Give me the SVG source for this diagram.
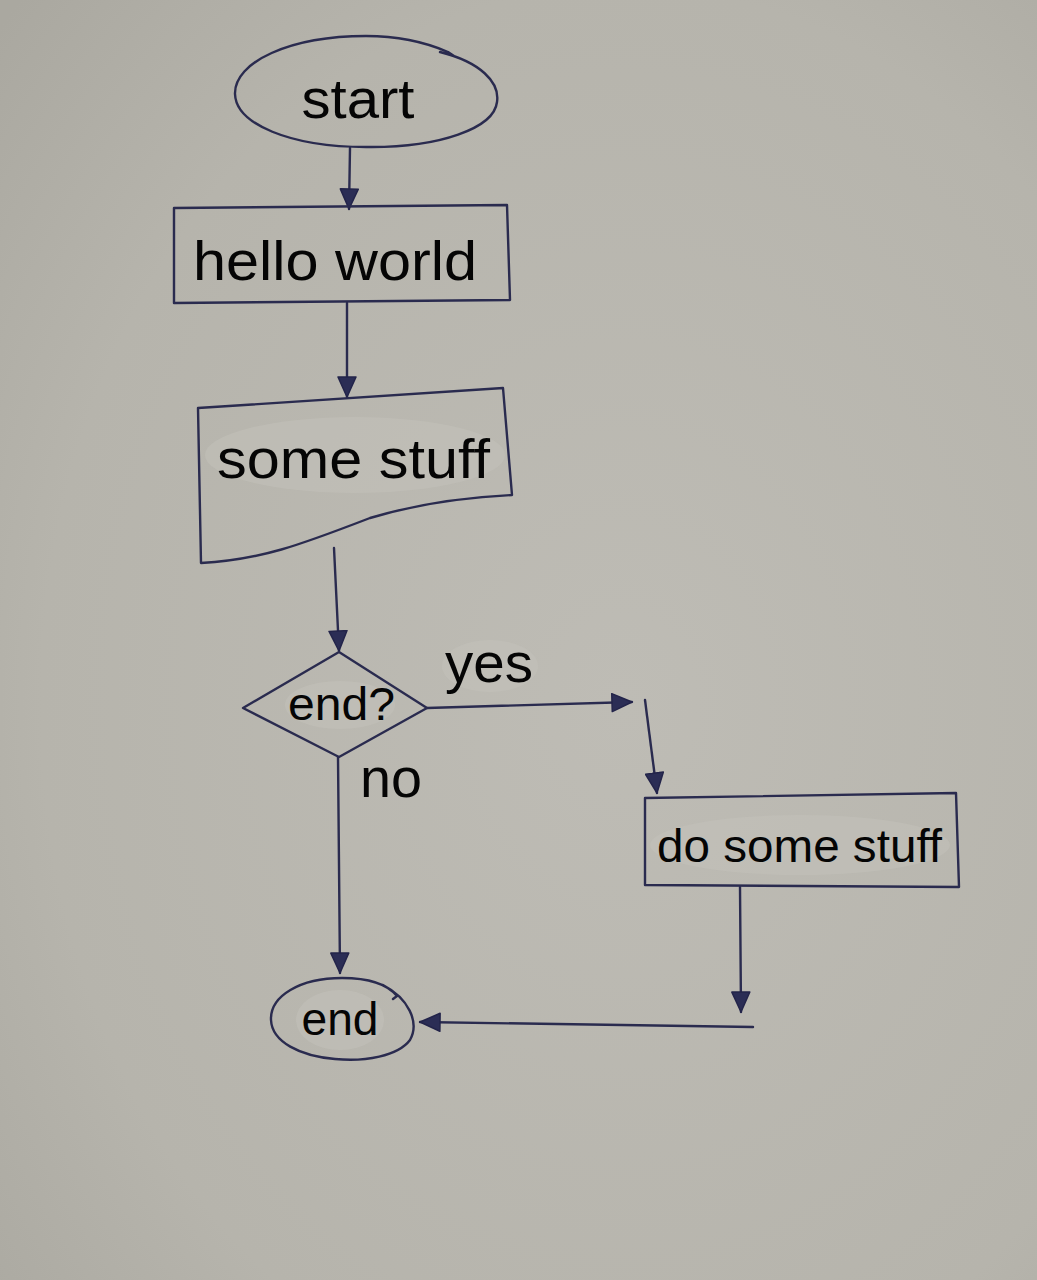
<svg xmlns="http://www.w3.org/2000/svg" width="1037" height="1280" viewBox="0 0 1037 1280">
<defs>
<radialGradient id="paper" cx="0.6" cy="0.55" r="0.8">
<stop offset="0" stop-color="#bebcb5"/>
<stop offset="0.7" stop-color="#b6b4ac"/>
<stop offset="1" stop-color="#aaa8a0"/>
</radialGradient>
<marker id="arr" viewBox="0 0 22 20" refX="21" refY="10" markerWidth="22" markerHeight="20" markerUnits="userSpaceOnUse" orient="auto">
<path d="M1,1 L21,10 L1,19 Z" fill="#2b2d55" stroke="#23244a" stroke-width="1.5" stroke-linejoin="round"/>
</marker>
</defs>
<style>
.ln{fill:none;stroke:#2a2b4f;stroke-width:2.4;stroke-linecap:round;stroke-linejoin:round}
.t{font-family:"Liberation Sans",Arial,sans-serif;fill:#050505}
.hl{fill:#c3c1ba;opacity:0.55}
</style>
<rect width="1037" height="1280" fill="url(#paper)"/>

<g id="connectors">
<path class="ln" d="M350,148 L349,209" marker-end="url(#arr)"/>
<path class="ln" d="M347,303 L347,397" marker-end="url(#arr)"/>
<path class="ln" d="M334,548 L339,651" marker-end="url(#arr)"/>
<path class="ln" d="M427,708 L632,702" marker-end="url(#arr)"/>
<path class="ln" d="M645,700 L657,793" marker-end="url(#arr)"/>
<path class="ln" d="M338,757 L340,973" marker-end="url(#arr)"/>
<path class="ln" d="M740,887 L741,1012" marker-end="url(#arr)"/>
<path class="ln" d="M753,1027 L420,1022" marker-end="url(#arr)"/>
</g>

<g id="start">
<path class="ln" d="M440,52 C480,62 500,82 497,102 C494,128 440,148 366,147 C290,147 236,124 235,94 C234,62 290,36 366,36 C400,36 425,42 448,52 L454,56"/>
<text class="t" x="358" y="118" font-size="56" text-anchor="middle" textLength="113" lengthAdjust="spacingAndGlyphs">start</text>
</g>

<g id="hello">
<path class="ln" d="M174,208 L507,205 L510,300 L174,303 Z"/>
<text class="t" x="193" y="280" font-size="56" textLength="284" lengthAdjust="spacingAndGlyphs">hello world</text>
</g>

<g id="stuff">
<ellipse class="hl" cx="355" cy="455" rx="150" ry="38"/>
<path class="ln" d="M198,408 L503,388 L512,495 C470,497 420,503 370,518 C300,545 260,560 201,563 L198,408"/>
<text class="t" x="217" y="478" font-size="56" textLength="273" lengthAdjust="spacingAndGlyphs">some stuff</text>
</g>

<g id="decision">
<ellipse class="hl" cx="340" cy="705" rx="55" ry="24"/>
<path class="ln" d="M339,652 L427,708 L339,757 L243,708 Z"/>
<text class="t" x="288" y="720" font-size="47" textLength="107" lengthAdjust="spacingAndGlyphs">end?</text>
</g>

<g id="labels">
<ellipse class="hl" cx="490" cy="666" rx="48" ry="26"/>
<text class="t" x="445" y="682" font-size="56" textLength="88" lengthAdjust="spacingAndGlyphs">yes</text>
<text class="t" x="360" y="797" font-size="56" textLength="62" lengthAdjust="spacingAndGlyphs">no</text>
</g>

<g id="do">
<ellipse class="hl" cx="800" cy="845" rx="150" ry="30"/>
<path class="ln" d="M645,798 L956,793 L959,887 L645,885 Z"/>
<text class="t" x="657" y="862" font-size="46" textLength="285" lengthAdjust="spacingAndGlyphs">do some stuff</text>
</g>

<g id="end">
<ellipse class="hl" cx="340" cy="1020" rx="44" ry="30"/>
<path class="ln" d="M383,985 C408,998 420,1022 410,1040 C398,1056 365,1062 335,1059 C300,1056 272,1042 271,1020 C270,996 300,978 342,978 C370,978 388,985 397,996 L393,999"/>
<text class="t" x="340" y="1035" font-size="46" text-anchor="middle" textLength="77" lengthAdjust="spacingAndGlyphs">end</text>
</g>
</svg>
